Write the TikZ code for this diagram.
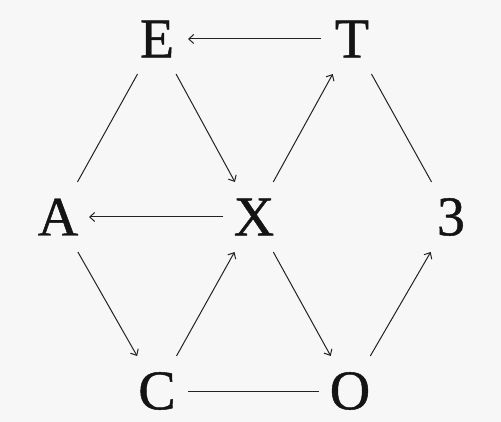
\documentclass[tikz,border=0pt]{standalone}
\usepackage{fontspec}
\setmainfont{Liberation Serif}[FakeBold=0.8]
\usetikzlibrary{arrows.meta}
\definecolor{bg}{RGB}{247,247,247}
\definecolor{ink}{RGB}{20,20,20}
\definecolor{edge}{RGB}{35,35,35}
\begin{document}
\begin{tikzpicture}[x=1pt,y=-1pt,
  letter/.style={rectangle,minimum width=62pt,minimum height=70pt,inner sep=0pt,outer sep=0pt,
    text=ink,font=\fontsize{56}{56}\selectfont},
  link/.style={draw=edge,line width=1pt},
  arr/.style={link,-{Straight Barb[length=5pt,width=9pt]}}]
\fill[bg] (0,0) rectangle (501,422);
\useasboundingbox (0,0) rectangle (501,422);
\node[letter] (E) at (157,39) {E};
\node[letter] (T) at (352,39) {T};
\node[letter] (A) at (58,217) {A};
\node[letter] (X) at (254,217) {X};
\node[letter] (N3) at (451,217) {3};
\node[letter] (C) at (157,391) {C};
\node[letter] (O) at (350,391) {O};
\draw[arr] (T) -- (E);
\draw[arr] (E) -- (X);
\draw[arr] (X) -- (T);
\draw[arr] (X) -- (A);
\draw[arr] (A) -- (C);
\draw[arr] (C) -- (X);
\draw[arr] (X) -- (O);
\draw[arr] (O) -- (N3);
\draw[link] (C) -- (O);
\draw[link] (E) -- (A);
\draw[link] (T) -- (N3);
\end{tikzpicture}
\end{document}
